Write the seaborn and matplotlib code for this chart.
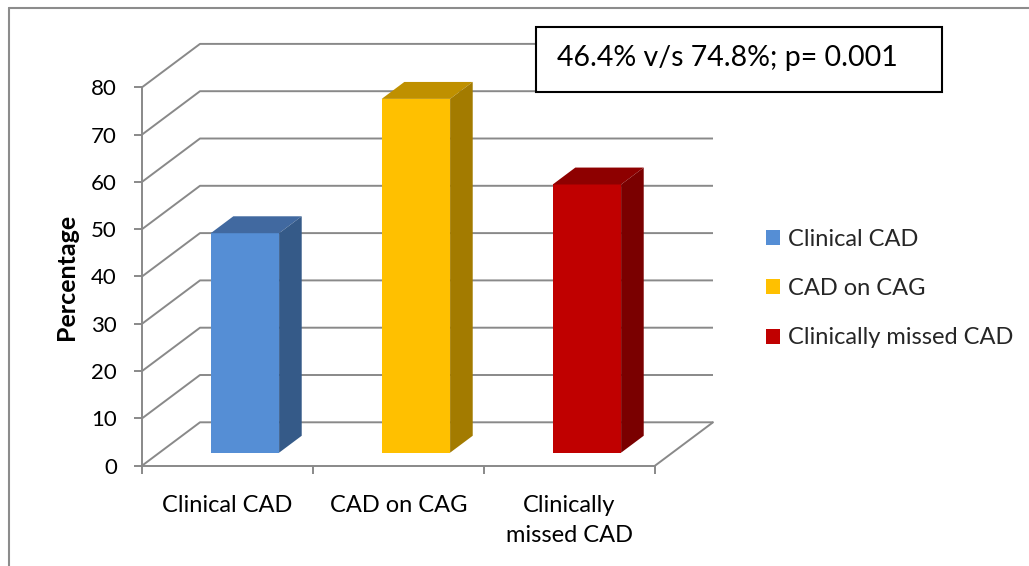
import matplotlib
matplotlib.use("Agg")
import matplotlib.pyplot as plt
import seaborn as sns
import pandas as pd
from matplotlib.patches import Polygon, Rectangle, Patch
from matplotlib.lines import Line2D
from matplotlib.transforms import Affine2D

# Data
categories = ["Clinical CAD", "CAD on CAG", "Clinically missed CAD"]
tick_labels = ["Clinical CAD", "CAD on CAG", "Clinically\nmissed CAD"]
percentages = [46.4, 74.8, 56.7]
y_ticks = [0, 10, 20, 30, 40, 50, 60, 70, 80]
annotation = "46.4% v/s 74.8%; p= 0.001"

# Face colours for the 3-D look (front, top, side)
front_colors = ["#558ED5", "#FFC000", "#C00000"]
top_colors = ["#4169A0", "#BF9000", "#8E0000"]
side_colors = ["#355A88", "#A37B00", "#7A0000"]
grid_color = "#898989"

sns.set_theme(style="white")
plt.rcParams["font.family"] = ["Lato", "DejaVu Sans"]

W, H = 1029, 566
fig = plt.figure(figsize=(W / 100, H / 100), dpi=100)
fig.patch.set_facecolor("white")

# Front plane of the chart box
x0, x1, y0, y1 = 142, 655, 465.7, 87.3
ax = fig.add_axes([x0 / W, 1 - y0 / H, (x1 - x0) / W, (y0 - y1) / H])
ax.set_facecolor("none")

df = pd.DataFrame({"group": categories, "pct": percentages})
sns.barplot(data=df, x="group", y="pct", hue="group", palette=front_colors,
            width=0.4, saturation=1, legend=False, ax=ax, edgecolor="none",
            zorder=3)

ax.set_xlim(-0.5, 2.5)
ax.set_ylim(0, 80)

# Depth of the box in data units (58 px right, 43.4 px up)
DX = 58 / ((x1 - x0) / 3)
DY = 43.4 / ((y0 - y1) / 80)
f_front, f_back = 0.30, 0.69

# Back wall and side wall gridlines
for v in y_ticks:
    ax.plot([-0.5, -0.5 + DX, 2.5 + DX], [v, v + DY, v + DY],
            color=grid_color, lw=1.4, clip_on=False, zorder=1,
            solid_capstyle="butt")
# Right edge of the floor
ax.plot([2.5, 2.5 + DX], [0, DY], color=grid_color, lw=1.4, clip_on=False,
        zorder=1)

# Push the seaborn bars into the box and add top / side faces
shift = Affine2D().translate(f_front * DX, f_front * DY) + ax.transData
for i, p in enumerate(ax.patches[:len(percentages)]):
    x, w, h = p.get_x(), p.get_width(), p.get_height()
    p.set_transform(shift)
    p.set_clip_on(False)
    top = [(x + f_front * DX, h + f_front * DY),
           (x + w + f_front * DX, h + f_front * DY),
           (x + w + f_back * DX, h + f_back * DY),
           (x + f_back * DX, h + f_back * DY)]
    side = [(x + w + f_front * DX, f_front * DY),
            (x + w + f_back * DX, f_back * DY),
            (x + w + f_back * DX, h + f_back * DY),
            (x + w + f_front * DX, h + f_front * DY)]
    ax.add_patch(Polygon(top, closed=True, facecolor=top_colors[i],
                         edgecolor="none", clip_on=False, zorder=3))
    ax.add_patch(Polygon(side, closed=True, facecolor=side_colors[i],
                         edgecolor="none", clip_on=False, zorder=3))

# Axes spines and ticks
sns.despine(ax=ax, top=True, right=True)
for s in ("left", "bottom"):
    ax.spines[s].set_color(grid_color)
    ax.spines[s].set_linewidth(1.4)

ax.set_yticks(y_ticks)
ax.set_yticklabels([str(v) for v in y_ticks])
ax.tick_params(axis="y", which="major", length=6, width=1.4, color=grid_color,
               direction="out", pad=12, labelsize=16, labelcolor="black",
               left=True)

ax.set_xticks([-0.5, 0.5, 1.5, 2.5])
ax.set_xticklabels(["", "", "", ""])
ax.set_xticks([0, 1, 2], minor=True)
ax.set_xticklabels(tick_labels, minor=True, fontsize=17, linespacing=1.55)
ax.tick_params(axis="x", which="major", length=6, width=1.4, color=grid_color,
               direction="out", bottom=True)
ax.tick_params(axis="x", which="minor", length=0, pad=21, labelcolor="black",
               bottom=True)
ax.set_xlabel("")
ax.set_ylabel("")
fig.text(66 / W, 1 - 277 / H, "Percentage", rotation=90, ha="center",
         va="center", fontsize=18, fontweight="bold", color="black")

# Legend
handles = [Patch(facecolor=c, edgecolor="none") for c in front_colors]
fig.legend(handles, categories, loc="center left",
           bbox_to_anchor=(766 / W, 1 - 288.5 / H), frameon=False, fontsize=17,
           handlelength=0.6, handleheight=0.6, handletextpad=0.35,
           labelspacing=1.2, borderpad=0, borderaxespad=0)

# Annotation box
fig.add_artist(Rectangle((536 / W, 1 - 92 / H), 406 / W, 65 / H,
                         transform=fig.transFigure, facecolor="white",
                         edgecolor="black", lw=1.5, zorder=5))
fig.text(557 / W, 1 - 58 / H, annotation, fontsize=20.5, ha="left",
         va="center", color="black", zorder=6)

# Outer frame lines
fig.add_artist(Line2D([8.5 / W, 8.5 / W], [0, 1 - 7.5 / H],
                      transform=fig.transFigure, color="#8C8C8C", lw=1.5))
fig.add_artist(Line2D([8.5 / W, 1], [1 - 7.5 / H, 1 - 7.5 / H],
                      transform=fig.transFigure, color="#8C8C8C", lw=1.5))

fig.savefig("out.png", dpi=100, facecolor="white")
